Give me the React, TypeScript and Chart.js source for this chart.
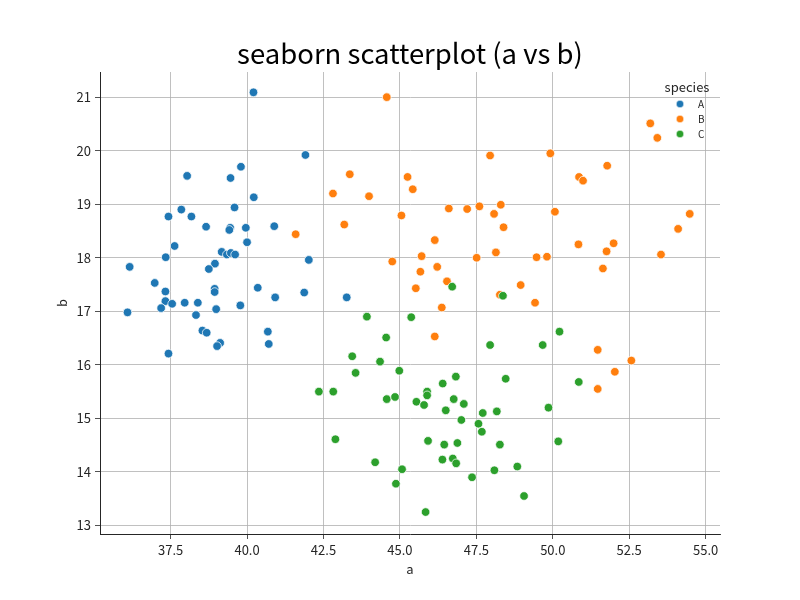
import React, { useEffect, useRef } from "react";
import { Chart, registerables } from "chart.js";

Chart.register(...registerables);

const speciesNames = ["A", "B", "C"];
const speciesColors = ["#1f77b4", "#ff7f0e", "#2ca02c"];

const aA = [40.21, 41.91, 39.80, 38.04, 39.46, 40.22, 39.59, 37.85, 37.43, 38.18, 38.66, 39.45, 39.42, 39.96, 40.89, 40.00, 37.63, 39.17, 39.34, 39.47, 39.61, 37.34, 42.02, 36.16, 38.95, 38.75, 36.98, 37.33, 38.94, 38.94, 40.35, 41.87, 40.92, 37.33, 37.55, 37.96, 38.39, 37.19, 38.99, 39.78, 36.09, 38.33, 38.54, 38.68, 40.68, 40.71, 39.12, 39.02, 37.43, 43.26];
const bA = [21.09, 19.92, 19.70, 19.53, 19.49, 19.13, 18.94, 18.90, 18.77, 18.77, 18.58, 18.56, 18.52, 18.56, 18.59, 18.29, 18.22, 18.11, 18.06, 18.09, 18.06, 18.01, 17.96, 17.83, 17.89, 17.79, 17.53, 17.37, 17.42, 17.36, 17.44, 17.35, 17.26, 17.19, 17.14, 17.16, 17.16, 17.06, 17.04, 17.11, 16.98, 16.93, 16.64, 16.60, 16.62, 16.39, 16.41, 16.35, 16.21, 17.26];

const aB = [44.57, 47.95, 43.36, 45.25, 45.42, 42.81, 43.99, 46.60, 47.20, 47.60, 48.30, 48.08, 48.39, 45.05, 43.18, 41.59, 46.14, 45.71, 47.51, 48.14, 44.75, 46.22, 53.19, 53.42, 49.92, 51.78, 50.86, 50.99, 50.07, 54.48, 54.10, 50.84, 51.99, 51.76, 49.47, 49.81, 53.54, 51.64, 48.95, 48.27, 49.42, 51.47, 52.57, 52.03, 51.47, 45.67, 46.54, 45.52, 46.37, 46.14];
const bB = [21.00, 19.91, 19.56, 19.51, 19.28, 19.20, 19.15, 18.92, 18.91, 18.96, 18.99, 18.82, 18.57, 18.79, 18.62, 18.44, 18.33, 18.03, 18.00, 18.10, 17.93, 17.83, 20.51, 20.24, 19.95, 19.72, 19.51, 19.44, 18.86, 18.82, 18.54, 18.25, 18.27, 18.12, 18.01, 18.02, 18.06, 17.80, 17.49, 17.31, 17.16, 16.28, 16.08, 15.87, 15.55, 17.74, 17.56, 17.43, 17.07, 16.53];

const aC = [46.71, 48.37, 43.92, 45.37, 44.55, 47.95, 49.67, 50.22, 43.44, 44.35, 43.55, 44.98, 46.40, 46.83, 48.46, 50.85, 42.35, 42.82, 44.57, 44.84, 45.54, 45.79, 45.89, 45.89, 46.76, 47.09, 46.50, 47.71, 48.17, 49.86, 47.01, 47.57, 47.68, 42.89, 45.92, 46.45, 46.88, 48.27, 50.18, 44.19, 46.39, 46.73, 46.84, 45.07, 48.09, 48.84, 47.36, 44.87, 49.06, 45.84];
const bC = [17.46, 17.29, 16.90, 16.89, 16.51, 16.37, 16.37, 16.62, 16.16, 16.06, 15.85, 15.89, 15.65, 15.78, 15.74, 15.68, 15.50, 15.50, 15.36, 15.40, 15.31, 15.25, 15.50, 15.43, 15.36, 15.27, 15.15, 15.10, 15.13, 15.20, 14.97, 14.90, 14.75, 14.61, 14.58, 14.51, 14.54, 14.51, 14.57, 14.18, 14.23, 14.25, 14.16, 14.05, 14.03, 14.10, 13.90, 13.78, 13.55, 13.25];

const xTicks = [37.5, 40, 42.5, 45, 47.5, 50, 52.5, 55];
const yTicks = [13, 14, 15, 16, 17, 18, 19, 20, 21];

const titleText = "seaborn scatterplot (a vs b)";
const xLabel = "a";
const yLabel = "b";
const legendTitle = "species";

const FONT = "'Noto Sans CJK SC', 'Noto Sans', sans-serif";
const TEXT = "#262626";

const zip = (xs: number[], ys: number[]) => xs.map((x, i) => ({ x, y: ys[i] }));

const legendPlugin = {
  id: "seabornLegend",
  afterDraw(chart: any) {
    const ctx = chart.ctx;
    const area = chart.chartArea;
    ctx.save();
    ctx.fillStyle = TEXT;
    ctx.font = `13px ${FONT}`;
    ctx.textAlign = "center";
    ctx.textBaseline = "middle";
    const cx = area.right - 33;
    ctx.fillText(legendTitle, cx, area.top + 15);
    speciesNames.forEach((name, i) => {
      const y = area.top + 32 + i * 15;
      ctx.beginPath();
      ctx.arc(area.right - 40, y, 3.8, 0, Math.PI * 2);
      ctx.fillStyle = speciesColors[i];
      ctx.fill();
      ctx.lineWidth = 0.6;
      ctx.strokeStyle = "#ffffff";
      ctx.stroke();
      ctx.fillStyle = TEXT;
      ctx.font = `10px ${FONT}`;
      ctx.textAlign = "left";
      ctx.fillText(name, area.right - 22, y);
    });
    ctx.restore();
  },
};

export default function App() {
  const ref = useRef<HTMLCanvasElement | null>(null);
  useEffect(() => {
    if (!ref.current) return;
    const datasets = [
      { label: "A", data: zip(aA, bA), order: 2 },
      { label: "B", data: zip(aB, bB), order: 1 },
      { label: "C", data: zip(aC, bC), order: 0 },
    ].map((d, i) => ({
      ...d,
      backgroundColor: speciesColors[i],
      borderColor: "#ffffff",
      borderWidth: 0.75,
      pointRadius: 4.3,
      pointHoverRadius: 4.3,
    }));
    const chart = new Chart(ref.current, {
      type: "scatter",
      data: { datasets },
      plugins: [legendPlugin],
      options: {
        animation: false,
        responsive: false,
        events: [],
        layout: { padding: { left: 0, right: 80, top: 0, bottom: 0 } },
        plugins: {
          legend: { display: false },
          tooltip: { enabled: false },
          title: {
            display: true,
            fullSize: false,
            text: titleText,
            color: "#000",
            font: { family: FONT, size: 27.5, weight: "normal", lineHeight: 1.2 },
            padding: { top: 37, bottom: 2 },
          },
        },
        scales: {
          x: {
            type: "linear",
            min: 35.19,
            max: 55.47,
            afterBuildTicks: (s: any) => {
              s.ticks = xTicks.map((v) => ({ value: v }));
            },
            afterFit: (s: any) => {
              s.height = 66;
            },
            ticks: {
              color: TEXT,
              font: { family: FONT, size: 13 },
              padding: 3,
              maxRotation: 0,
              autoSkip: false,
              callback: (v: any) => Number(v).toFixed(1),
            },
            grid: {
              color: "#b0b0b0",
              lineWidth: 0.8,
              tickColor: "#262626",
              tickLength: 5,
            },
            border: { display: true, color: "#262626", width: 1 },
            title: {
              display: true,
              text: xLabel,
              color: TEXT,
              font: { family: FONT, size: 13 },
              padding: { top: 0, bottom: 23 },
            },
          },
          y: {
            type: "linear",
            min: 12.84,
            max: 21.47,
            afterBuildTicks: (s: any) => {
              s.ticks = yTicks.map((v) => ({ value: v }));
            },
            afterFit: (s: any) => {
              s.width = 100;
            },
            ticks: {
              color: TEXT,
              font: { family: FONT, size: 13 },
              padding: 4,
              autoSkip: false,
              callback: (v: any) => String(v),
            },
            grid: {
              color: "#b0b0b0",
              lineWidth: 0.8,
              tickColor: "#262626",
              tickLength: 5,
            },
            border: { display: true, color: "#262626", width: 1 },
            title: {
              display: true,
              text: yLabel,
              color: TEXT,
              font: { family: FONT, size: 13 },
              padding: { top: 54, bottom: 0 },
            },
          },
        },
      },
    });
    return () => chart.destroy();
  }, []);
  return (
    <div style={{ position: "absolute", left: 0, top: 0, width: 800, height: 600, background: "#fff" }}>
      <canvas ref={ref} width={800} height={600} style={{ width: 800, height: 600, display: "block" }} />
    </div>
  );
}
